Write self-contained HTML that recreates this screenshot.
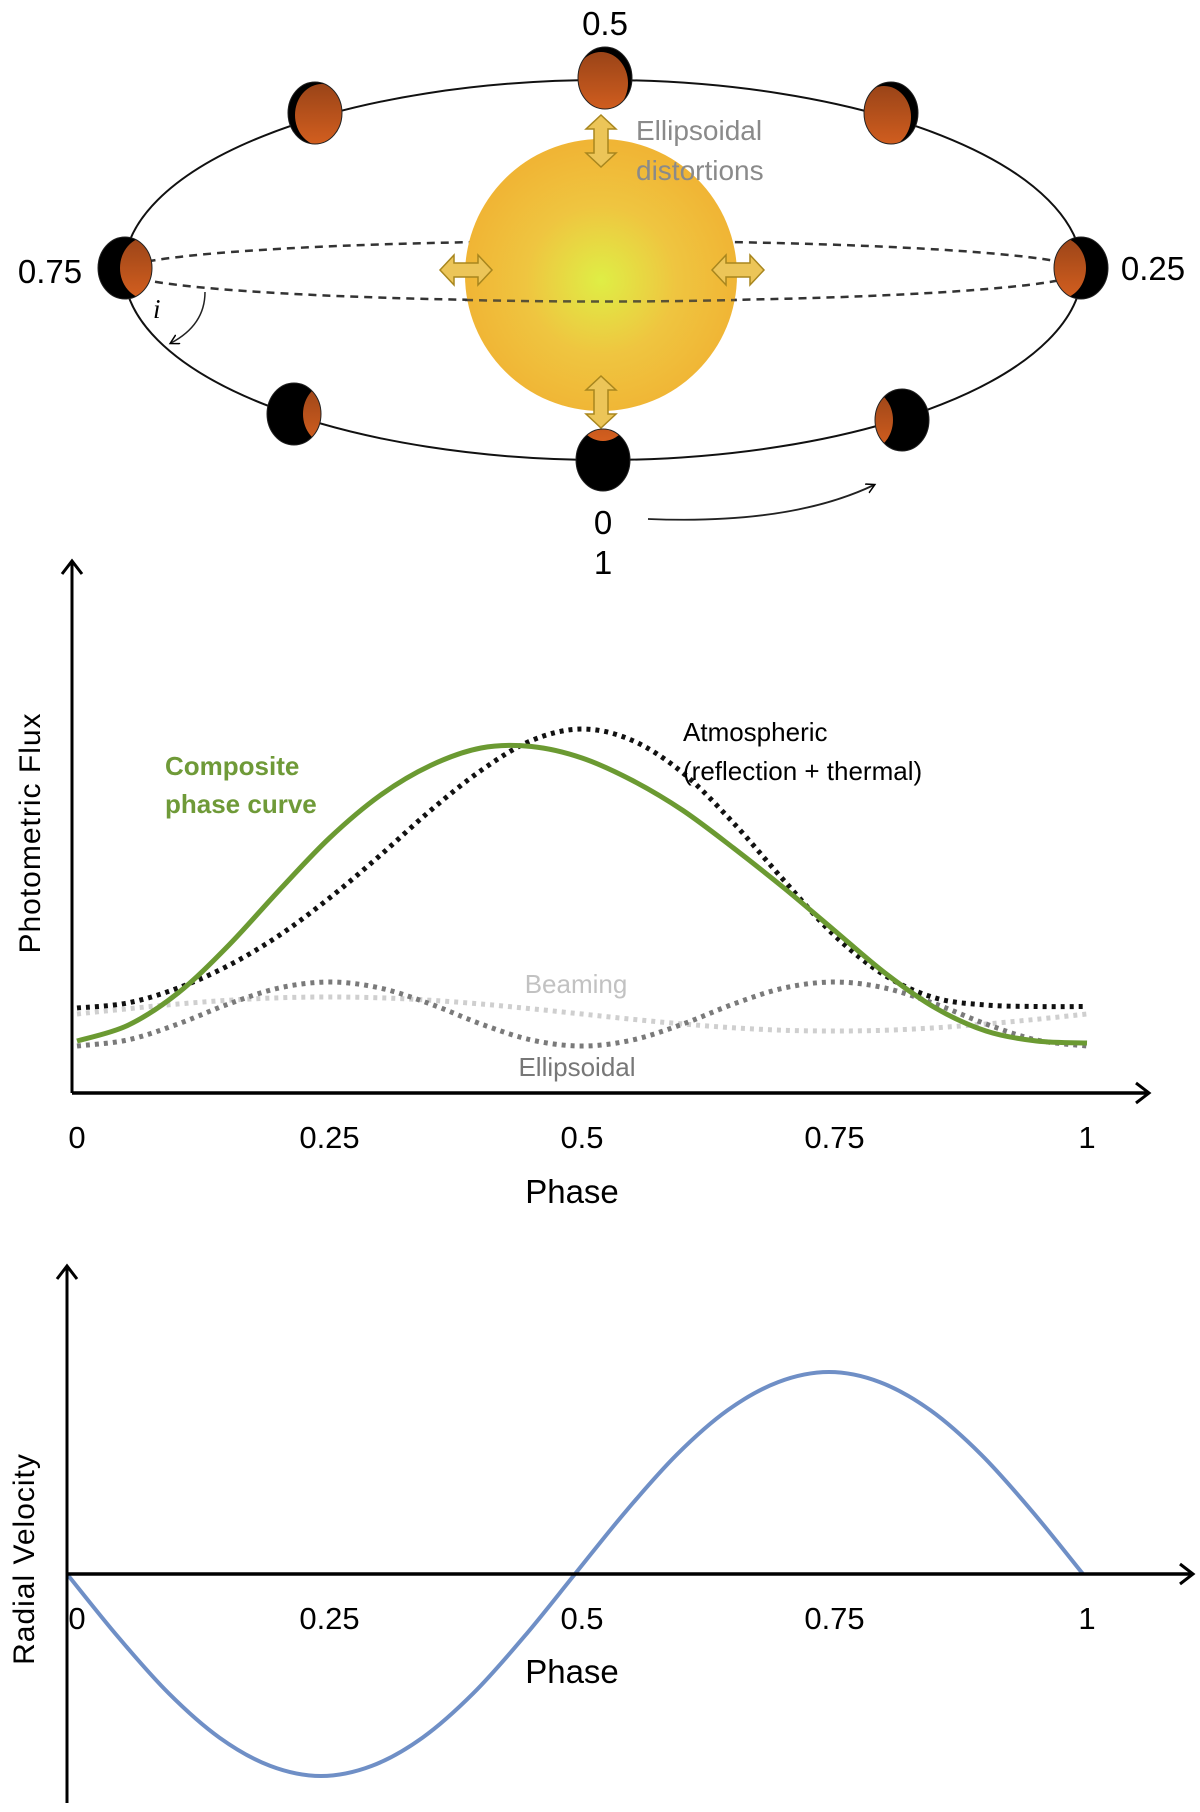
<!DOCTYPE html>
<html><head><meta charset="utf-8">
<style>
html,body{margin:0;padding:0;background:#fff;}
svg{display:block;font-family:"Liberation Sans Narrow","Liberation Sans",sans-serif;}
</style></head>
<body>
<svg id="fig" width="1200" height="1812" viewBox="0 0 1200 1812">
<defs>
  <radialGradient id="starGrad" cx="50%" cy="52%" r="50%">
    <stop offset="0%" stop-color="#dfee45"/>
    <stop offset="55%" stop-color="#efc540"/>
    <stop offset="100%" stop-color="#f0b535"/>
  </radialGradient>
  <linearGradient id="planetGrad" x1="0" y1="0" x2="0" y2="1">
    <stop offset="0%" stop-color="#9a4418"/>
    <stop offset="100%" stop-color="#d45f1f"/>
  </linearGradient>
  <marker id="arrowHead" markerWidth="12" markerHeight="12" refX="8" refY="5" orient="auto" markerUnits="userSpaceOnUse">
    <path d="M0,0 L9,5 L0,10" fill="none" stroke="#000" stroke-width="1.5"/>
  </marker>
  <marker id="axisHead" markerWidth="20" markerHeight="24" refX="14" refY="12" orient="auto" markerUnits="userSpaceOnUse">
    <path d="M2,2 L15,12 L2,22" fill="none" stroke="#000" stroke-width="3"/>
  </marker>
</defs>

<g id="orbit">
  <ellipse cx="603" cy="270" rx="479" ry="190" fill="none" stroke="#111" stroke-width="2"/>
  <ellipse cx="603" cy="271" rx="480" ry="30" fill="none" stroke="#333" stroke-width="2.5" stroke-dasharray="8 6"/>
  <circle cx="601" cy="275" r="136" fill="url(#starGrad)"/>
  <path d="M465,300 Q603,303 737,300" fill="none" stroke="#333" stroke-width="2.5" stroke-dasharray="8 6" opacity="0.8"/>
  <g id="distArrows"></g>
  <text x="636" y="140" font-size="28" fill="#8a8a8a">Ellipsoidal</text>
  <text x="636" y="180" font-size="28" fill="#8a8a8a">distortions</text>
  <g id="planets"></g>
  <text x="605" y="35" font-size="33" text-anchor="middle">0.5</text>
  <text x="50" y="283" font-size="33" text-anchor="middle">0.75</text>
  <text x="1153" y="280" font-size="33" text-anchor="middle">0.25</text>
  <text x="603" y="534" font-size="33" text-anchor="middle">0</text>
  <text x="603" y="574" font-size="33" text-anchor="middle">1</text>
  <path d="M648,519 Q790,525 874,485" fill="none" stroke="#222" stroke-width="1.8" marker-end="url(#arrowHead)"/>
  <text x="153" y="318" font-size="27" font-style="italic" font-family="Liberation Serif,serif">i</text>
  <path d="M205,292 Q205,325 171,343" fill="none" stroke="#222" stroke-width="1.5" marker-end="url(#arrowHead)"/>
</g>

<g id="flux">
  <g id="fluxLines"></g>
  <line x1="72" y1="1093" x2="72" y2="562" stroke="#000" stroke-width="3" marker-end="url(#axisHead)"/>
  <line x1="72" y1="1093" x2="1148" y2="1093" stroke="#000" stroke-width="3.5" marker-end="url(#axisHead)"/>
  <g id="fluxTicks"></g>
  <text x="572" y="1203" font-size="33" text-anchor="middle">Phase</text>
  <text transform="translate(40,833) rotate(-90)" font-size="30" text-anchor="middle" letter-spacing="1">Photometric Flux</text>
  <text x="165" y="775" font-size="26" font-weight="bold" fill="#6f9a38">Composite</text>
  <text x="165" y="813" font-size="26" font-weight="bold" fill="#6f9a38">phase curve</text>
  <text x="683" y="741" font-size="26">Atmospheric</text>
  <text x="683" y="780" font-size="26">(reflection + thermal)</text>
  <text x="576" y="993" font-size="26" fill="#c2c2c2" text-anchor="middle">Beaming</text>
  <text x="577" y="1076" font-size="26" fill="#777" text-anchor="middle">Ellipsoidal</text>
</g>

<g id="rv">
  <g id="rvLines"></g>
  <line x1="67" y1="1803" x2="67" y2="1267" stroke="#000" stroke-width="3" marker-end="url(#axisHead)"/>
  <line x1="67" y1="1574" x2="1192" y2="1574" stroke="#000" stroke-width="3.5" marker-end="url(#axisHead)"/>
  <g id="rvTicks"></g>
  <text x="572" y="1683" font-size="33" text-anchor="middle">Phase</text>
  <text transform="translate(34,1559) rotate(-90)" font-size="30" text-anchor="middle" letter-spacing="1">Radial Velocity</text>
</g>
</svg>

<script>
const phases = [0,0.05,0.1,0.15,0.2,0.25,0.3,0.35,0.4,0.45,0.5,0.55,0.6,0.65,0.7,0.75,0.8,0.85,0.9,0.95,1];
const atmospheric = [17,18,21,25.5,31.5,39,47.5,56.5,64.5,70.5,72.8,70.5,64,54,42.5,31.5,23.5,19,17.6,17.3,17.3];
const composite = [10.4,13.5,20,29.5,40.5,51,59.5,65.5,69,69.3,67,62.5,56.5,49,41,32.5,24,17,12.4,10.4,10];
const ellipsoidal = [9.4,10.6,13.8,17.8,21,22.2,21,17.8,13.8,10.6,9.4,10.6,13.8,17.8,21,22.2,21,17.8,13.8,10.6,9.4];
const beaming = [15.8,16.85,17.8,18.55,19.05,19.2,19.05,18.55,17.8,16.85,15.8,14.75,13.8,13.05,12.55,12.4,12.55,13.05,13.8,14.75,15.8];
const rvValues = [0,-0.31,-0.59,-0.81,-0.95,-1,-0.95,-0.81,-0.59,-0.31,0,0.31,0.59,0.81,0.95,1,0.95,0.81,0.59,0.31,0];
const tickValues = [0,0.25,0.5,0.75,1];
const tickLabels = ["0","0.25","0.5","0.75","1"];

const NS = "http://www.w3.org/2000/svg";
function el(tag, attrs, parent){const e=document.createElementNS(NS,tag);for(const k in attrs)e.setAttribute(k,attrs[k]);parent.appendChild(e);return e;}

const fx = p => 77 + p*1010;
const fy = v => 1093 - v*5;
const rx = p => 67 + p*1016;
const ry = v => 1574 - v*202;

function smoothPath(xs, ys){
  let d = "M"+xs[0].toFixed(1)+","+ys[0].toFixed(1);
  for(let i=0;i<xs.length-1;i++){
    const x0=xs[Math.max(i-1,0)],y0=ys[Math.max(i-1,0)];
    const x1=xs[i],y1=ys[i],x2=xs[i+1],y2=ys[i+1];
    const x3=xs[Math.min(i+2,xs.length-1)],y3=ys[Math.min(i+2,xs.length-1)];
    const c1x=x1+(x2-x0)/6,c1y=y1+(y2-y0)/6,c2x=x2-(x3-x1)/6,c2y=y2-(y3-y1)/6;
    d+=" C"+c1x.toFixed(1)+","+c1y.toFixed(1)+" "+c2x.toFixed(1)+","+c2y.toFixed(1)+" "+x2.toFixed(1)+","+y2.toFixed(1);
  }
  return d;
}

const fl = document.getElementById("fluxLines");
const px = phases.map(fx);
let p;
p = el("path",{d:smoothPath(px,beaming.map(fy)),fill:"none",stroke:"#cfcfcf","stroke-width":5,"stroke-dasharray":"4 5"},fl);


p = el("path",{d:smoothPath(px,ellipsoidal.map(fy)),fill:"none",stroke:"#7a7a7a","stroke-width":5,"stroke-dasharray":"4 5"},fl);


p = el("path",{d:smoothPath(px,atmospheric.map(fy)),fill:"none",stroke:"#111","stroke-width":5,"stroke-dasharray":"4 5"},fl);


p = el("path",{d:smoothPath(px,composite.map(fy)),fill:"none",stroke:"#6b9a32","stroke-width":5},fl);



const ft = document.getElementById("fluxTicks");
tickValues.forEach((v,i)=>{
  const t = el("text",{x:fx(v),y:1148,"font-size":31,"text-anchor":"middle"},ft);
  t.textContent = tickLabels[i];
  
  
});

const rl = document.getElementById("rvLines");
p = el("path",{d:smoothPath(phases.map(rx),rvValues.map(ry)),fill:"none",stroke:"#6f8fc6","stroke-width":4},rl);


const rt = document.getElementById("rvTicks");
tickValues.forEach((v,i)=>{
  const t = el("text",{x:fx(v),y:1629,"font-size":31,"text-anchor":"middle"},rt);
  t.textContent = tickLabels[i];
  
  
});

const planetDefs = [
  {n:"planet-phase-0.5",x:605,y:78,dx:-4,dy:5},
  {n:"planet-phase-0.625",x:315,y:113,dx:7,dy:2},
  {n:"planet-phase-0.375",x:891,y:113,dx:-7,dy:4},
  {n:"planet-phase-0.75",x:125,y:268,dx:22,dy:0},
  {n:"planet-phase-0.25",x:1081,y:268,dx:-22,dy:0},
  {n:"planet-phase-0.875",x:294,y:414,dx:36,dy:0},
  {n:"planet-phase-0.125",x:902,y:420,dx:-36,dy:0},
  {n:"planet-phase-0",x:603,y:460,dx:0,dy:-50}
];
const defs = document.querySelector("defs");
const pg = document.getElementById("planets");
planetDefs.forEach((d,i)=>{
  const cp = el("clipPath",{id:"pc"+i},defs);
  el("ellipse",{cx:d.x,cy:d.y,rx:27,ry:31},cp);
  const g = el("g",{},pg);
  
  
  el("ellipse",{cx:d.x,cy:d.y,rx:27,ry:31,fill:"#000"},g);
  el("ellipse",{cx:d.x+d.dx,cy:d.y+d.dy,rx:27,ry:31,fill:"url(#planetGrad)","clip-path":"url(#pc"+i+")"},g);
  el("ellipse",{cx:d.x,cy:d.y,rx:27,ry:31,fill:"none",stroke:"#222","stroke-width":1},g);
});

const da = document.getElementById("distArrows");
function dblArrow(cx,cy,vertical,name){
  const g = el("g",{transform:"translate("+cx+","+cy+")"+(vertical?" rotate(90)":"")},da);
  
  
  el("polygon",{points:"-26,0 -12,-15 -12,-7 12,-7 12,-15 26,0 12,15 12,7 -12,7 -12,15",fill:"#ecc558",stroke:"#a8861e","stroke-width":1.5},g);
}
dblArrow(601,141,true,"distortion-arrow-top");
dblArrow(601,402,true,"distortion-arrow-bottom");
dblArrow(466,270,false,"distortion-arrow-left");
dblArrow(738,270,false,"distortion-arrow-right");
</script>
</body></html>
